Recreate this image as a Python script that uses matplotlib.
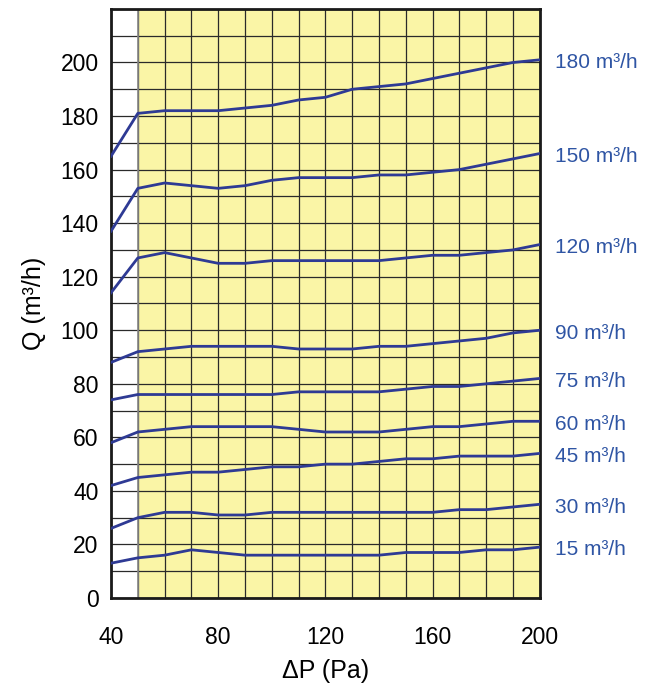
import numpy as np
import matplotlib.pyplot as plt
from matplotlib.ticker import MultipleLocator

plt.rcParams['font.family'] = ['Liberation Sans', 'DejaVu Sans']

# Datos
dp = [40, 50, 60, 70, 80, 90, 100, 110, 120, 130, 140, 150, 160, 170, 180, 190, 200]

q180 = [165, 181, 182, 182, 182, 183, 184, 186, 187, 190, 191, 192, 194, 196, 198, 200, 201]
q150 = [137, 153, 155, 154, 153, 154, 156, 157, 157, 157, 158, 158, 159, 160, 162, 164, 166]
q120 = [114, 127, 129, 127, 125, 125, 126, 126, 126, 126, 126, 127, 128, 128, 129, 130, 132]
q90 = [88, 92, 93, 94, 94, 94, 94, 93, 93, 93, 94, 94, 95, 96, 97, 99, 100]
q75 = [74, 76, 76, 76, 76, 76, 76, 77, 77, 77, 77, 78, 79, 79, 80, 81, 82]
q60 = [58, 62, 63, 64, 64, 64, 64, 63, 62, 62, 62, 63, 64, 64, 65, 66, 66]
q45 = [42, 45, 46, 47, 47, 48, 49, 49, 50, 50, 51, 52, 52, 53, 53, 53, 54]
q30 = [26, 30, 32, 32, 31, 31, 32, 32, 32, 32, 32, 32, 32, 33, 33, 34, 35]
q15 = [13, 15, 16, 18, 17, 16, 16, 16, 16, 16, 16, 17, 17, 17, 18, 18, 19]

series = [q180, q150, q120, q90, q75, q60, q45, q30, q15]
labels = ['180 m³/h', '150 m³/h', '120 m³/h', '90 m³/h', '75 m³/h',
          '60 m³/h', '45 m³/h', '30 m³/h', '15 m³/h']

fig = plt.figure(figsize=(6.55, 6.88), dpi=100)
ax = fig.add_axes([0.1695, 0.1308, 0.6545, 0.8562])

# zona amarilla
ax.axvspan(50, 200, color='#faf5a6', zorder=0)

ax.set_xlim(40, 200)
ax.set_ylim(0, 220)
ax.set_xticks(np.arange(40, 201, 40))
ax.set_yticks(np.arange(0, 201, 20))
ax.xaxis.set_minor_locator(MultipleLocator(10))
ax.yaxis.set_minor_locator(MultipleLocator(10))
ax.grid(True, which='both', color='#2a2a2a', linewidth=0.9, zorder=1)
ax.set_axisbelow(True)
ax.axvline(50, color='#888888', linewidth=1.2, zorder=1)

for q, lab in zip(series, labels):
    ax.plot(dp, q, color='#2e3a94', linewidth=2.0, zorder=3)
    ax.annotate(lab, xy=(200, q[-1]), xytext=(11, -2), textcoords='offset points',
                va='center', ha='left', color='#2f55a4', fontsize=15,
                annotation_clip=False)

for s in ax.spines.values():
    s.set_linewidth(2)
    s.set_color('#1a1a1a')

ax.tick_params(which='both', length=0, labelsize=16.5)
ax.tick_params(axis='x', pad=20)
ax.tick_params(axis='y', pad=9)
ax.set_xlabel('ΔP (Pa)', fontsize=18, labelpad=7)
ax.set_ylabel('Q (m³/h)', fontsize=18, labelpad=10)

plt.savefig('out.png', dpi=100)
